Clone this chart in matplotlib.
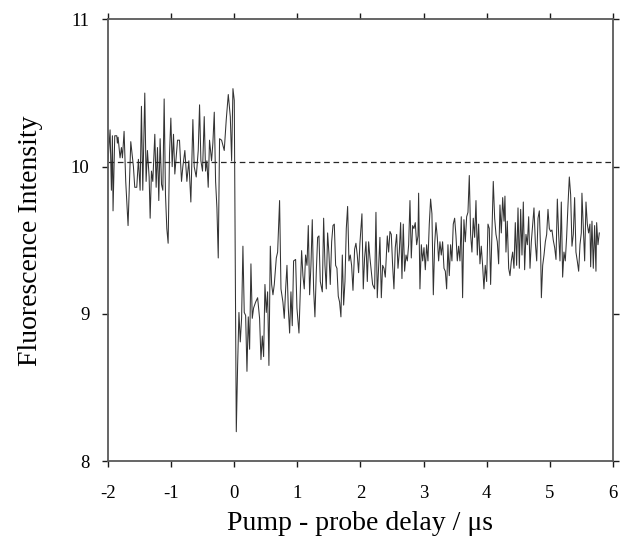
import matplotlib
matplotlib.use('Agg')
import matplotlib.pyplot as plt
import numpy as np

# fluorescence before the pump pulse (delay in us)
pre_time = [
    -2.000, -1.968, -1.947, -1.931, -1.921, -1.894, -1.862, -1.852, -1.841, -1.810,
    -1.788, -1.772, -1.746, -1.720, -1.683, -1.640, -1.598, -1.577, -1.545, -1.519,
    -1.492, -1.471, -1.450, -1.418, -1.397, -1.376, -1.349, -1.333, -1.312, -1.291,
    -1.259, -1.238, -1.217, -1.196, -1.175, -1.153, -1.132, -1.111, -1.090, -1.069,
    -1.048, -1.026, -1.005, -0.984, -0.963, -0.942, -0.921, -0.899, -0.868, -0.836,
    -0.815, -0.783, -0.751, -0.720, -0.688, -0.656, -0.635, -0.603, -0.571, -0.550,
    -0.529, -0.503, -0.476, -0.455, -0.434, -0.413, -0.392, -0.360, -0.339, -0.317,
    -0.296, -0.275, -0.254, -0.233, -0.201, -0.159, -0.127, -0.095, -0.063, -0.042,
    -0.021, 0.000,
]
pre_signal = [
    10.04, 10.25, 9.84, 10.21, 9.70, 10.21, 10.21, 10.16, 10.20, 10.06,
    10.13, 10.06, 10.24, 9.90, 9.60, 10.17, 10.00, 9.86, 9.86, 10.05,
    9.84, 10.41, 9.84, 10.50, 9.90, 10.11, 9.93, 9.65, 9.97, 9.90,
    10.22, 9.86, 10.13, 9.77, 10.19, 9.88, 9.84, 10.46, 9.81, 9.58,
    9.48, 10.09, 10.33, 10.00, 10.22, 9.95, 10.06, 10.18, 10.18, 9.90,
    10.00, 10.11, 9.90, 10.04, 9.76, 10.32, 10.00, 9.93, 10.11, 10.42,
    10.04, 9.97, 10.34, 9.97, 10.04, 9.86, 10.18, 10.04, 10.16, 10.37,
    9.90, 9.72, 9.38, 10.19, 10.18, 10.11, 10.32, 10.49, 10.34, 10.04,
    10.53, 10.45,
]

# fluorescence after the pump pulse
post_time = [
    0.032, 0.053, 0.074, 0.095, 0.116, 0.137, 0.158, 0.180, 0.201, 0.222,
    0.243, 0.264, 0.285, 0.306, 0.338, 0.370, 0.401, 0.423, 0.444, 0.465,
    0.486, 0.507, 0.528, 0.549, 0.571, 0.592, 0.613, 0.634, 0.666, 0.687,
    0.718, 0.740, 0.771, 0.792, 0.814, 0.835, 0.856, 0.877, 0.898, 0.919,
    0.940, 0.972, 0.993, 1.025, 1.046, 1.067, 1.088, 1.109, 1.130, 1.152,
    1.173, 1.194, 1.215, 1.236, 1.257, 1.278, 1.300, 1.321, 1.342, 1.363,
    1.395, 1.416, 1.437, 1.458, 1.479, 1.500, 1.521, 1.543, 1.564, 1.585,
    1.606, 1.627, 1.648, 1.669, 1.690, 1.712, 1.733, 1.754, 1.775, 1.796,
    1.817, 1.838, 1.859, 1.881,
    1.907, 1.928, 1.949, 1.970, 1.991, 2.023, 2.044, 2.065, 2.087, 2.108,
    2.129, 2.150, 2.171, 2.192, 2.224, 2.245, 2.266, 2.287, 2.308, 2.330,
    2.351, 2.372, 2.393, 2.425, 2.446, 2.467, 2.488, 2.509, 2.530, 2.551,
    2.573, 2.594, 2.615, 2.636, 2.657, 2.678, 2.699, 2.721, 2.742, 2.763,
    2.784, 2.805, 2.826, 2.847, 2.868, 2.890, 2.911, 2.921, 2.942, 2.964,
    2.985, 3.006, 3.027, 3.048, 3.069, 3.090, 3.111, 3.132, 3.154, 3.175,
    3.196, 3.217, 3.238, 3.259, 3.280, 3.301, 3.323, 3.344, 3.365, 3.386,
    3.407, 3.428, 3.449, 3.470, 3.492, 3.513, 3.534, 3.555, 3.576, 3.597,
    3.618, 3.639, 3.661, 3.682, 3.703, 3.724, 3.745, 3.766, 3.787, 3.809,
    3.830, 3.851, 3.872,
    3.893, 3.914, 3.935, 3.956, 3.977, 3.999, 4.020, 4.041, 4.062, 4.083,
    4.104, 4.126, 4.147, 4.168, 4.189, 4.210, 4.231, 4.253, 4.274, 4.289,
    4.305, 4.326, 4.348, 4.369, 4.390, 4.411, 4.432, 4.453, 4.474, 4.496,
    4.517, 4.538, 4.559, 4.580, 4.601, 4.622, 4.644, 4.665, 4.686, 4.707,
    4.728, 4.749, 4.771, 4.792, 4.813, 4.834, 4.855, 4.866, 4.887, 4.908,
    4.929, 4.950, 4.971, 4.992, 5.013, 5.034, 5.055, 5.077, 5.098, 5.119,
    5.140, 5.161, 5.182, 5.203, 5.224, 5.245, 5.266, 5.288, 5.309, 5.330,
    5.351, 5.372, 5.393, 5.414, 5.435, 5.457, 5.478, 5.499, 5.509, 5.531,
    5.552, 5.573, 5.594, 5.615, 5.636, 5.647, 5.668, 5.689, 5.710, 5.731,
    5.742, 5.763, 5.784,
]
post_signal = [
    8.20, 8.65, 9.01, 8.81, 8.97, 9.46, 9.01, 8.99, 8.61, 8.98,
    8.76, 9.34, 8.97, 9.04, 9.08, 9.11, 8.97, 8.69, 8.85, 8.71,
    9.20, 9.01, 9.15, 8.65, 9.46, 9.20, 9.13, 9.20, 9.38, 9.42,
    9.77, 9.17, 9.08, 8.97, 9.17, 9.33, 9.04, 8.87, 9.15, 8.92,
    9.36, 9.37, 9.04, 8.87, 9.15, 9.43, 9.26, 9.17, 9.40, 9.33,
    9.60, 9.13, 9.33, 9.64, 9.17, 8.98, 9.29, 9.52, 9.53, 9.22,
    9.15, 9.65, 9.33, 9.17, 9.55, 9.41, 9.20, 9.49, 9.60, 9.61,
    9.33, 9.31, 9.12, 9.08, 8.98, 9.40, 9.06, 9.22, 9.58, 9.73,
    9.36, 9.40, 9.33, 9.16,
    9.44, 9.48, 9.40, 9.28, 9.48, 9.68, 9.17, 9.38, 9.49, 9.22,
    9.49, 9.38, 9.29, 9.20, 9.17, 9.69, 9.11, 9.31, 9.52, 9.11,
    9.33, 9.31, 9.25, 9.53, 9.42, 9.56, 9.54, 9.33, 9.17, 9.45,
    9.54, 9.31, 9.42, 9.62, 9.24, 9.61, 9.29, 9.40, 9.36, 9.47,
    9.77, 9.38, 9.60, 9.58, 9.62, 9.47, 9.53, 9.82, 9.17, 9.47,
    9.36, 9.45, 9.30, 9.47, 9.36, 9.61, 9.78, 9.68, 9.13, 9.47,
    9.62, 9.52, 9.36, 9.49, 9.40, 9.49, 9.31, 9.29, 9.17, 9.47,
    9.26, 9.47, 9.36, 9.61, 9.65, 9.53, 9.36, 9.46, 9.36, 9.66,
    9.11, 9.64, 9.49, 9.66, 9.69, 9.94, 9.54, 9.42, 9.65, 9.52,
    9.77, 9.40, 9.61,
    9.34, 9.46, 9.33, 9.17, 9.33, 9.22, 9.61, 9.58, 9.20, 9.56,
    9.90, 9.65, 9.54, 9.49, 9.34, 9.74, 9.55, 9.79, 9.63, 9.80,
    9.42, 9.63, 9.31, 9.26, 9.36, 9.42, 9.31, 9.62, 9.33, 9.72,
    9.31, 9.71, 9.40, 9.76, 9.30, 9.54, 9.47, 9.66, 9.31, 9.49,
    9.61, 9.72, 9.48, 9.36, 9.65, 9.70, 9.42, 9.11, 9.33, 9.40,
    9.49, 9.54, 9.71, 9.58, 9.56, 9.57, 9.50, 9.45, 9.37, 9.78,
    9.54, 9.36, 9.76, 9.25, 9.42, 9.36, 9.52, 9.74, 9.93, 9.81,
    9.46, 9.54, 9.79, 9.42, 9.36, 9.29, 9.47, 9.55, 9.82, 9.58,
    9.36, 9.76, 9.61, 9.55, 9.61, 9.32, 9.63, 9.31, 9.60, 9.29,
    9.62, 9.47, 9.55,
]

baseline = 10.03
x_ticks = [-2, -1, 0, 1, 2, 3, 4, 5, 6]
y_ticks = [8, 9, 10, 11]


def main():
    plt.rcParams['font.family'] = ['Liberation Serif', 'DejaVu Serif']

    fig = plt.figure(figsize=(6.21, 5.40), dpi=100)
    ax = fig.add_axes([0.174, 0.146, 0.813, 0.818])

    t = np.concatenate([pre_time, post_time])
    v = np.concatenate([pre_signal, post_signal])
    ax.plot(t, v, color='0.2', lw=0.75)
    ax.axhline(baseline, color='0.15', lw=0.9, ls=(0, (4.5, 3)))

    ax.set_xlim(-2, 6)
    ax.set_ylim(8, 11)
    ax.set_xticks(x_ticks)
    ax.set_yticks(y_ticks)
    ax.set_xticklabels(['-2', '-1', '0', '1', '2', '3', '4', '5', '6'])

    for s in ax.spines.values():
        s.set_color('0.35')
        s.set_linewidth(1.3)
    ax.tick_params(direction='out', length=4.5, width=1.0, color='0.1',
                   top=True, right=True, labelsize=13.5)
    ax.tick_params(axis='x', pad=13)
    ax.tick_params(axis='y', pad=9)

    ax.set_xlabel('Pump - probe delay / \u03bcs', fontsize=20, labelpad=6)
    ax.set_ylabel('Fluorescence Intensity', fontsize=20, labelpad=20)

    fig.savefig('out.png', dpi=100)


if __name__ == '__main__':
    main()
